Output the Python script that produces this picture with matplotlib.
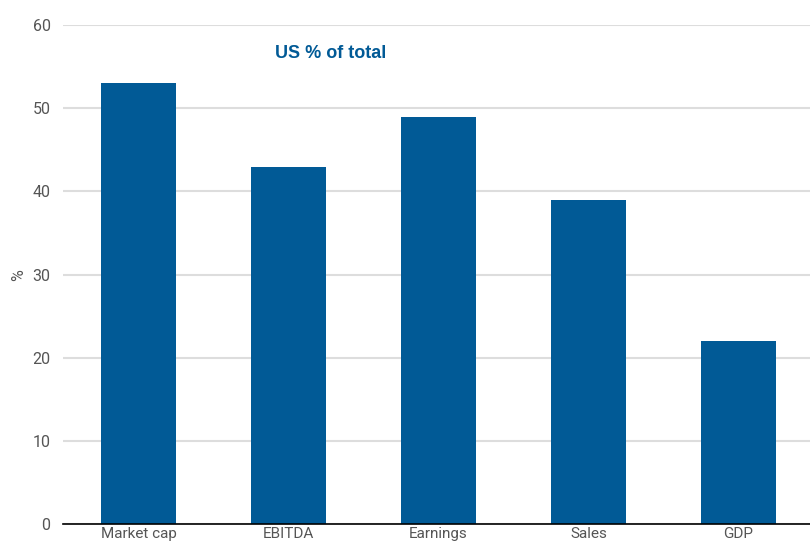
import matplotlib
matplotlib.use('Agg')
import matplotlib.pyplot as plt

categories = ['Market cap', 'EBITDA', 'Earnings', 'Sales', 'GDP']
us_share = [53, 43, 49, 39, 22]
y_ticks = [0, 10, 20, 30, 40, 50, 60]

plt.rcParams['font.family'] = ['Roboto', 'DejaVu Sans']

fig = plt.figure(figsize=(8.1, 5.47), dpi=100)
ax = fig.add_axes([0.0778, 0.042, 0.9222, 0.912])

x = range(len(categories))
ax.bar(x, us_share, width=0.5, color='#015a96', zorder=3)

ax.set_xlim(-0.503, 4.477)
ax.set_ylim(0, 60)
ax.set_yticks(y_ticks)
ax.set_xticks(list(x))
ax.set_xticklabels(categories)
ax.grid(axis='y', color='#dddddd', linewidth=1.5, zorder=0)

for s in ['top', 'right', 'left']:
    ax.spines[s].set_visible(False)
ax.spines['bottom'].set_color('black')
ax.spines['bottom'].set_linewidth(1.2)
ax.spines['bottom'].set_zorder(4)

ax.tick_params(axis='both', length=0, labelsize=11.5, labelcolor='#555555')
ax.tick_params(axis='y', pad=9)
ax.tick_params(axis='x', pad=2, labelsize=11)

ax.set_ylabel('%', fontsize=11.5, color='#555555')
ax.yaxis.set_label_coords(-0.05, 0.5)

ax.text(0.284, 0.935, 'US % of total', transform=ax.transAxes, fontsize=13,
        fontweight='bold', color='#015a96', family=['Liberation Sans', 'DejaVu Sans'])

fig.savefig('out.png', dpi=100)
